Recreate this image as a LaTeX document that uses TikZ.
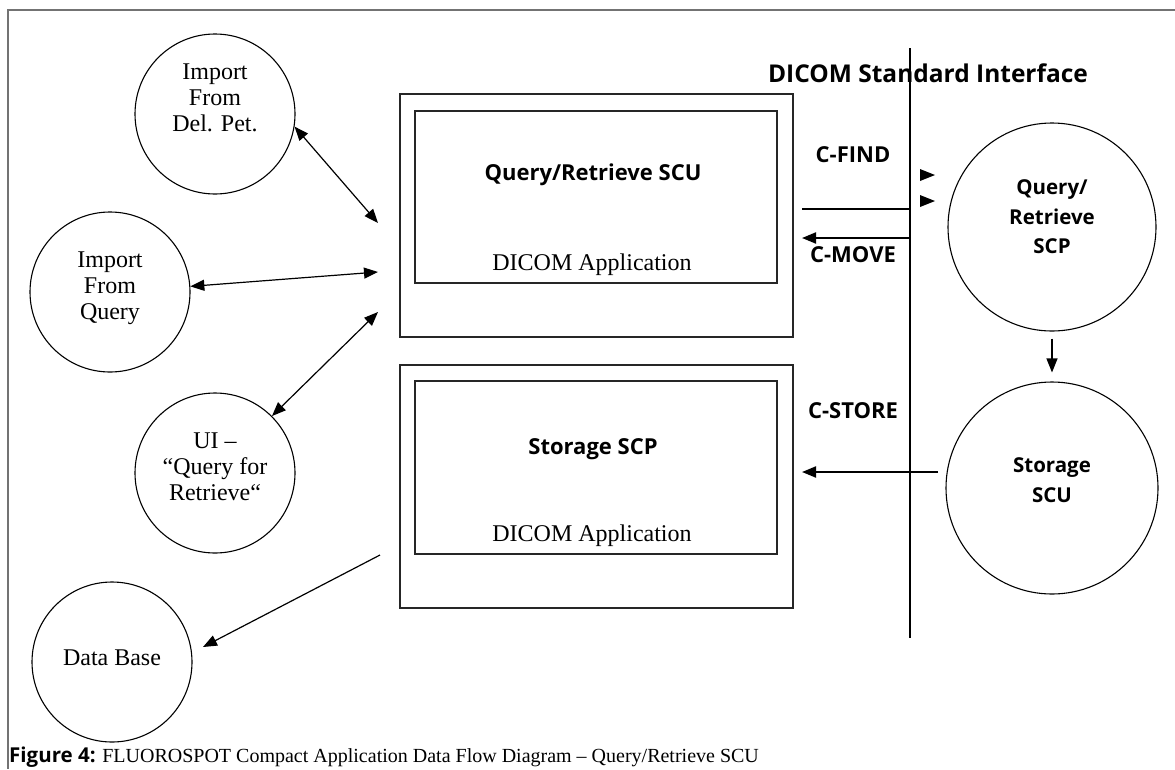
\documentclass[tikz,border=0pt]{standalone}
\usepackage{fontspec}
\setmainfont{Liberation Serif}
\newfontfamily\lblfont{Open Sans}
\usetikzlibrary{arrows.meta}
\begin{document}
\begin{tikzpicture}[x=1pt,y=-1pt,
  frameline/.style={draw=black!55, line width=1.4pt},
  circ/.style={draw, circle, line width=1.1pt, inner sep=0pt},
  boxo/.style={draw=black!85, line width=1.2pt, inner sep=0pt},
  serif/.style={font=\fontsize{24}{26}\selectfont, align=center, inner sep=0pt},
  lbl/.style={font=\lblfont\bfseries\fontsize{22}{29}\selectfont, align=center, inner sep=0pt},
  clbl/.style={font=\lblfont\bfseries\fontsize{20.5}{29.5}\selectfont, align=center, inner sep=0pt},
  conn/.style={line width=1.2pt, {Triangle[length=14pt,width=11pt]}-{Triangle[length=14pt,width=11pt]}},
  oneway/.style={line width=1.2pt, -{Triangle[length=14pt,width=11pt]}},
  iface/.style={line width=2pt},
  ifacearrow/.style={line width=2pt, -{Triangle[length=14pt,width=11pt]}},
  tip/.style={fill=black, draw=none}]
\useasboundingbox (0,0) rectangle (1175,769);
% outer frame
\draw[frameline] (1175,10) -- (8,10) -- (8,769);

% left circles
\node[circ, minimum size=160pt] (dp) at (215,114) {};
\node[serif] (dpt) at (215,98) {Import\\From\\Del. Pet.};
\node[circ, minimum size=160pt] (iq) at (110,292) {};
\node[serif] (iqt) at (110,288) {Import\\From\\Query};
\node[circ, minimum size=160pt] (ui) at (215,473) {};
\node[serif] (uit) at (215,467) {UI --\\``Query for\\Retrieve``};
\node[circ, minimum size=160pt] (db) at (112,662) {};
\node[serif] (dbt) at (112,658) {Data Base};

% boxes
\node[boxo, minimum width=393pt, minimum height=243pt] (qro) at (596.5,215.5) {};
\node[boxo, minimum width=362pt, minimum height=172pt] (qri) at (596,197) {};
\node[lbl] (qrt) at (593,175) {Query/Retrieve SCU};
\node[serif] (qra) at (592,265) {DICOM Application};
\node[boxo, minimum width=393pt, minimum height=243pt] (sto) at (596.5,486.5) {};
\node[boxo, minimum width=362pt, minimum height=173pt] (sti) at (596,467.5) {};
\node[lbl] (stt) at (593,449) {Storage SCP};
\node[serif] (sta) at (592,536) {DICOM Application};

% right circles
\node[circ, minimum size=208pt] (scp) at (1052,227) {};
\node[clbl] (scpt) at (1052,217) {Query/\\Retrieve\\SCP};
\node[circ, minimum size=212pt] (scu) at (1052,488) {};
\node[clbl] (scut) at (1052,480) {Storage\\SCU};

% interface
\coordinate (ifT) at (910,48);
\coordinate (ifB) at (910,638);
\draw[iface] (ifT) -- (ifB);
\node[lbl, font=\lblfont\bfseries\fontsize{24.5}{29}\selectfont] (ift) at (928,73) {DICOM Standard Interface};
\node[lbl] (cfind) at (853,155) {C-FIND};
\node[lbl] (cmove) at (853,255) {C-MOVE};
\node[lbl] (cstore) at (853,411) {C-STORE};

\coordinate (f1) at (802,209);
\coordinate (f2) at (910,209);
\draw[iface] (f1) -- (f2);
\coordinate (m1) at (910,238);
\coordinate (m2) at (802,238);
\draw[ifacearrow] (m1) -- (m2);
\coordinate (s1) at (938,472);
\coordinate (s2) at (802,472);
\draw[ifacearrow] (s1) -- (s2);

% detached arrowheads
\fill[tip] (920,169) -- (935,175) -- (920,181) -- cycle;
\fill[tip] (920,195) -- (935,201) -- (920,207) -- cycle;

% left connectors
\coordinate (a1) at (378,223);
\coordinate (a2) at (378,272);
\coordinate (a3) at (378,312);
\coordinate (a4) at (380,555);
\coordinate (dbtip) at (203,647);
\draw[conn] (dp.-9) -- (a1);
\draw[conn] (iq.4) -- (a2);
\draw[conn] (ui.45) -- (a3);
\draw[oneway] (a4) -- (dbtip);

% SCP -> SCU
\draw[oneway] ([yshift=-7pt]scp.south) -- ([yshift=9pt]scu.north);

% caption
\node[anchor=west, inner sep=0pt, font=\fontsize{20}{22}\selectfont] (cap) at (9,757)
  {{\lblfont\bfseries\fontsize{20.5}{22}\selectfont Figure 4:} FLUOROSPOT Compact Application Data Flow Diagram -- Query/Retrieve SCU};
\end{tikzpicture}
\end{document}
